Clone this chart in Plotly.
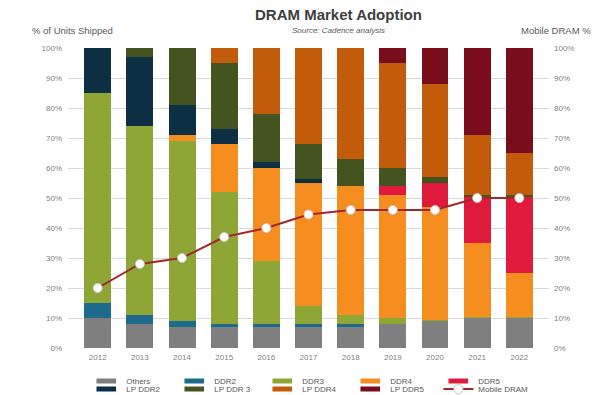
import plotly.graph_objects as go

years = ["2012", "2013", "2014", "2015", "2016", "2017", "2018", "2019", "2020", "2021", "2022"]

others   = [10, 8, 7, 7, 7, 7, 7, 8, 9, 10, 10]
ddr2     = [5, 3, 2, 1, 1, 1, 1, 0, 0, 0, 0]
ddr3     = [70, 63, 60, 44, 21, 6, 3, 2, 0.5, 0.5, 0.5]
ddr4     = [0, 0, 2, 16, 31, 41, 43, 41, 37.5, 24.5, 14.5]
ddr5     = [0, 0, 0, 0, 0, 0, 0, 3, 8, 15.5, 25.5]
lpddr2   = [15, 23, 10, 5, 2, 1.5, 0, 0, 0, 0, 0]
lpddr3   = [0, 3, 19, 22, 16, 11.5, 9, 6, 2, 0.5, 0.5]
lpddr4   = [0, 0, 0, 5, 22, 32, 37, 35, 31, 20, 14]
lpddr5   = [0, 0, 0, 0, 0, 0, 0, 5, 12, 29, 35]
mobile   = [20, 28, 30, 37, 40, 44.5, 46, 46, 46, 50, 50]

series = [
    ("Others", others, "#7f7f7f", "legend"),
    ("DDR2", ddr2, "#1d6a8c", "legend"),
    ("DDR3", ddr3, "#8ea636", "legend"),
    ("DDR4", ddr4, "#f68d1f", "legend"),
    ("DDR5", ddr5, "#e01a3c", "legend"),
    ("LP DDR2", lpddr2, "#0c2f44", "legend2"),
    ("LP DDR 3", lpddr3, "#445421", "legend2"),
    ("LP DDR4", lpddr4, "#c35c0a", "legend2"),
    ("LP DDR5", lpddr5, "#7a0d1c", "legend2"),
]

fig = go.Figure()
for name, vals, col, lg in series:
    fig.add_trace(go.Bar(x=years, y=vals, name=name, showlegend=False, legendgroup=name,
                         marker=dict(color=col, line=dict(width=0))))
    # legend swatch (flat bar-shaped key, no data of its own)
    fig.add_trace(go.Scatter(x=[None], y=[None], name=name, legend=lg, legendgroup=name,
                             mode="markers", hoverinfo="skip",
                             marker=dict(symbol="line-ew", size=14, color=col,
                                         line=dict(color=col, width=5))))

fig.add_trace(go.Scatter(
    x=years, y=mobile, name="Mobile DRAM", yaxis="y2", mode="lines+markers", legend="legend3",
    line=dict(color="#a3262a", width=2),
    marker=dict(size=9, color="white", line=dict(color="#c8c8c8", width=1)),
))

tickfont = dict(family="Liberation Sans, Arial, sans-serif", size=8, color="#7f7f7f")
legfont = dict(family="Liberation Sans, Arial, sans-serif", size=8, color="#595959")

def leg(x, y, ew=43):
    d = dict(
        orientation="h", x=x, y=y, xanchor="left", yanchor="middle",
        tracegroupgap=0, font=legfont, traceorder="normal", itemwidth=30,
        bgcolor="rgba(0,0,0,0)",
    )
    if ew:
        d.update(entrywidth=ew, entrywidthmode="pixels")
    return d

fig.update_layout(
    width=600, height=395,
    barmode="stack", bargap=0.36,
    plot_bgcolor="white", paper_bgcolor="white",
    margin=dict(l=68, r=51, t=48, b=47, autoexpand=False),
    showlegend=True,
    legend=leg(0.038, -0.11),
    legend2=leg(0.038, -0.137),
    legend3=leg(0.770, -0.137, None),
    xaxis=dict(tickfont=tickfont, showgrid=False, showline=False, ticks="", ticklabelstandoff=3),
    yaxis=dict(range=[0, 100], dtick=10, ticksuffix="%", tickfont=tickfont,
               gridcolor="#d9d9d9", gridwidth=1, zeroline=False, showline=False,
               ticklabelstandoff=5),
    yaxis2=dict(range=[0, 100], dtick=10, ticksuffix="%", tickfont=tickfont,
                overlaying="y", side="right", showgrid=False, zeroline=False, showline=False,
                ticklabelstandoff=4),
    annotations=[
        dict(text="<b>DRAM Market Adoption</b>", xref="paper", yref="paper", x=0.562, y=1.0,
             yshift=34, showarrow=False, xanchor="center", yanchor="middle",
             font=dict(family="Liberation Sans, Arial, sans-serif", size=15, color="#404040")),
        dict(text="<i>Source: Cadence analysis</i>", xref="paper", yref="paper", x=0.562, y=1.0,
             yshift=18, showarrow=False, xanchor="center", yanchor="middle",
             font=dict(family="Liberation Sans, Arial, sans-serif", size=8, color="#595959")),
        dict(text="% of Units Shipped", xref="paper", yref="paper", x=-0.08, y=1.0,
             yshift=18, showarrow=False, xanchor="left", yanchor="middle",
             font=dict(family="Liberation Sans, Arial, sans-serif", size=9.5, color="#595959")),
        dict(text="Mobile DRAM %", xref="paper", yref="paper", x=1.092, y=1.0,
             yshift=18, showarrow=False, xanchor="right", yanchor="middle",
             font=dict(family="Liberation Sans, Arial, sans-serif", size=9.5, color="#595959")),
    ],
)

fig.write_html("out.html", config={"displayModeBar": False},
               post_script="document.body.style.margin='0';document.body.style.overflow='hidden';")
